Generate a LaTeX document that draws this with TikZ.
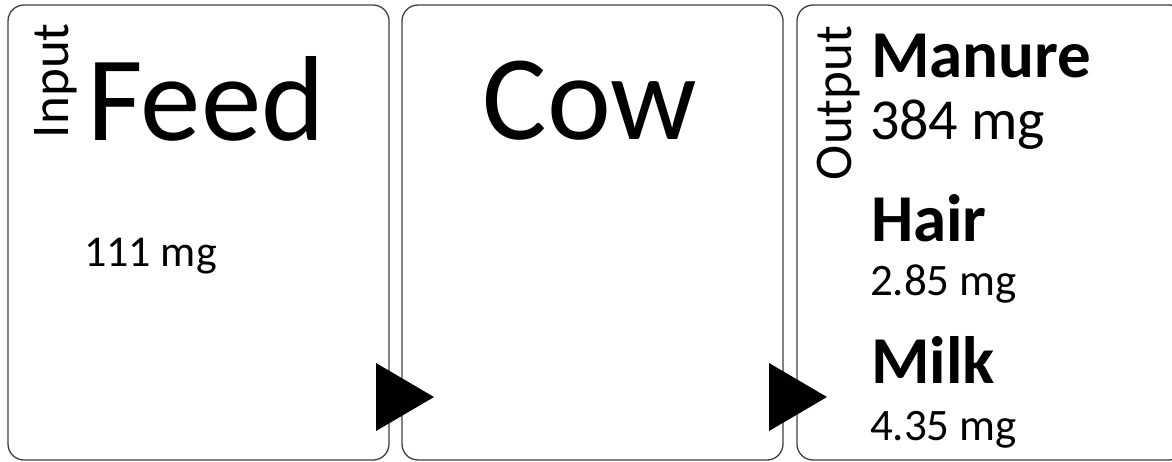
\documentclass[tikz,border=0pt]{standalone}
\usepackage{fontspec}
\setmainfont{Carlito}
\begin{document}
\begin{tikzpicture}[x=1pt,y=1pt,
  panel/.style={draw=black!75, line width=1.3pt, rounded corners=16pt, fill=white},
  tri/.style={fill=black},
  txt/.style={inner sep=0pt, outer sep=0pt, anchor=base west},
  side/.style={inner sep=0pt, outer sep=0pt, anchor=base west, rotate=90, font=\fontsize{53}{53}\selectfont},
  big/.style={font=\fontsize{121}{121}\selectfont},
  head/.style={font=\bfseries\fontsize{67}{67}\selectfont},
]
\useasboundingbox (0,0) rectangle (1172,-461);
\begin{scope}
\clip (0,0) rectangle (1172,-461);
\draw[panel] (8,-5) rectangle (389,-460);
\draw[panel] (402,-5) rectangle (783,-460);
\draw[panel] (797,-5) rectangle (1185,-460);
\end{scope}
\coordinate (t1) at (376,-363);
\coordinate (t2) at (769,-363);
\fill[tri] (t1) -- ++(0,-68) -- ++(58,34) -- cycle;
\fill[tri] (t2) -- ++(0,-68) -- ++(58,34) -- cycle;

\node[side] (input) at (68,-138) {Input};
\node[txt, big] (feed) at (87,-140) {Feed};
\node[txt, font=\fontsize{44}{44}\selectfont] (feedmg) at (84,-266) {111 mg};

\node[inner sep=0pt, anchor=base, big] (cow) at (590,-139) {Cow};

\node[side] (output) at (851,-180) {Output};
\node[txt, head] (manure) at (871,-77) {Manure};
\node[txt, font=\fontsize{58}{58}\selectfont] (manuremg) at (870,-139) {384 mg};
\node[txt, head] (hair) at (871,-241) {Hair};
\node[txt, font=\fontsize{45}{45}\selectfont] (hairmg) at (870,-295) {2.85 mg};
\node[txt, head] (milk) at (871,-383) {Milk};
\node[txt, font=\fontsize{45}{45}\selectfont] (milkmg) at (870,-440) {4.35 mg};
\end{tikzpicture}
\end{document}
